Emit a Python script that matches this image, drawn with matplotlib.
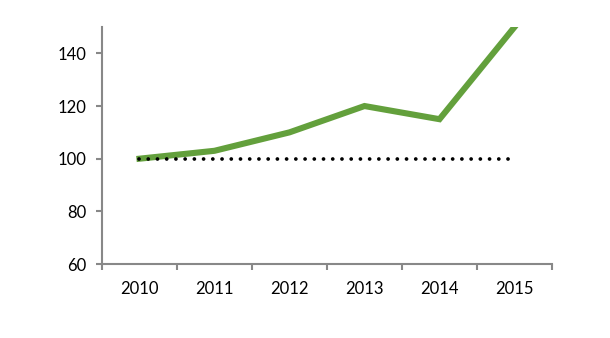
import matplotlib
matplotlib.use("Agg")
import matplotlib.pyplot as plt
import numpy as np

# data
years = ['2010', '2011', '2012', '2013', '2014', '2015']
index_values = [100, 103, 110, 120, 115, 150]
baseline = [100, 100, 100, 100, 100, 100]

plt.rcParams['font.family'] = ['Lato', 'DejaVu Sans']

fig = plt.figure(figsize=(6.1, 3.38), dpi=100)
ax = fig.add_axes([0.1672, 0.2189, 0.7377, 0.7011])

x = np.arange(len(years))
ax.plot(x, index_values, color='#63a03c', lw=4.4, solid_joinstyle='miter', zorder=2)
ax.plot(x, baseline, color='black', lw=2.7, linestyle=(0, (0.01, 2.45)),
        dash_capstyle='round', zorder=3)

ax.set_xlim(-0.5, len(years) - 0.5)
ax.set_ylim(60, 150)
ax.set_yticks([60, 80, 100, 120, 140])

# category axis: tick marks between categories, labels centred
ax.set_xticks(np.arange(-0.5, len(years), 1.0))
ax.set_xticklabels([])
ax.set_xticks(x, minor=True)
ax.set_xticklabels(years, minor=True)
ax.tick_params(axis='x', which='major', length=4, width=1.5, color='#888888', direction='out')
ax.tick_params(axis='x', which='minor', length=0, pad=12, labelsize=12)
ax.tick_params(axis='y', length=4, width=1.5, color='#888888', direction='out', pad=7, labelsize=12)

for s in ['top', 'right']:
    ax.spines[s].set_visible(False)
for s in ['left', 'bottom']:
    ax.spines[s].set_color('#888888')
    ax.spines[s].set_linewidth(1.5)

fig.savefig('out.png', dpi=100)
